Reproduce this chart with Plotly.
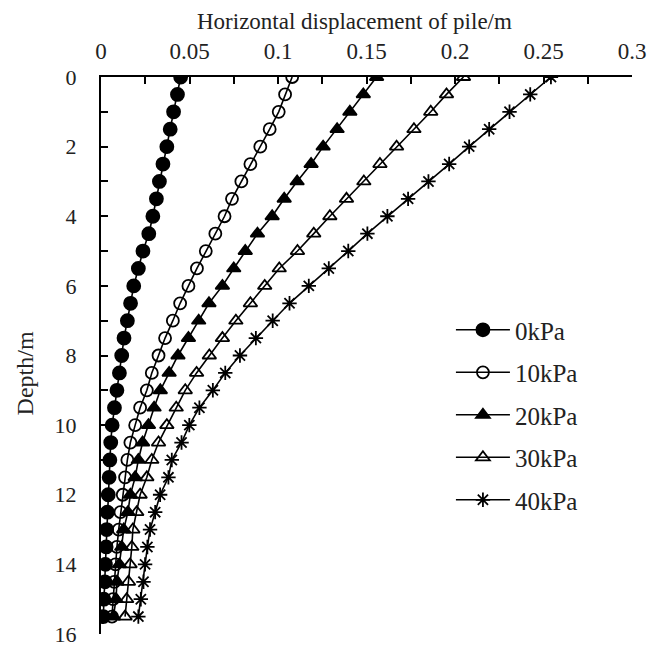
import plotly.graph_objects as go

depth = [i * 0.5 for i in range(32)]

disp_0kPa = [0.045, 0.0432, 0.041, 0.0391, 0.0372, 0.035, 0.033, 0.0313, 0.0293, 0.027,
             0.0237, 0.0211, 0.0185, 0.0167, 0.0149, 0.013, 0.0117, 0.0104, 0.009, 0.0076,
             0.0063, 0.0055, 0.005, 0.0046, 0.0041, 0.0036, 0.0032, 0.0029, 0.0025, 0.0022,
             0.0016, 0.0013]
disp_10kPa = [0.108, 0.104, 0.1004, 0.0953, 0.090, 0.0844, 0.0793, 0.074, 0.0698, 0.0646,
              0.0592, 0.0542, 0.0494, 0.0447, 0.0406, 0.0362, 0.0325, 0.0287, 0.0259, 0.0221,
              0.0193, 0.0166, 0.0149, 0.0136, 0.0123, 0.0110, 0.0100, 0.0090, 0.0082, 0.0075,
              0.0068, 0.0062]
disp_20kPa = [0.1557, 0.1482, 0.1406, 0.1334, 0.1255, 0.1187, 0.1108, 0.1035, 0.0967, 0.0884,
              0.0815, 0.075, 0.0686, 0.061, 0.0552, 0.0494, 0.0435, 0.0385, 0.0335, 0.030,
              0.0268, 0.0235, 0.0211, 0.0193, 0.0166, 0.0152, 0.0128, 0.0117, 0.0104, 0.009,
              0.0085, 0.007]
disp_30kPa = [0.2048, 0.1952, 0.1863, 0.1768, 0.167, 0.1576, 0.1485, 0.1387, 0.1293, 0.1202,
              0.111, 0.1007, 0.0925, 0.0844, 0.0762, 0.0686, 0.0612, 0.054, 0.0476, 0.0425,
              0.0372, 0.0325, 0.0287, 0.0259, 0.0221, 0.0202, 0.018, 0.0174, 0.0164, 0.0155,
              0.0145, 0.0136]
disp_40kPa = [0.2542, 0.2425, 0.2308, 0.2193, 0.208, 0.1967, 0.185, 0.1735, 0.1618, 0.1505,
              0.1397, 0.1287, 0.1174, 0.1065, 0.097, 0.0875, 0.0785, 0.0702, 0.0632, 0.0556,
              0.0499, 0.0455, 0.040, 0.0381, 0.0334, 0.0306, 0.0277, 0.0262, 0.0249, 0.024,
              0.0225, 0.0211]

series_names = ["0kPa", "10kPa", "20kPa", "30kPa", "40kPa"]
series_values = [disp_0kPa, disp_10kPa, disp_20kPa, disp_30kPa, disp_40kPa]
symbols = ["circle", "circle-open", "triangle-up", "triangle-up-open", "asterisk-open"]
sizes = [13, 12, 12, 12, 12]

FONT = "Liberation Serif, Times New Roman, serif"
TXT = "#222"

fig = go.Figure()
for name, vals, sym, sz in zip(series_names, series_values, symbols, sizes):
    fig.add_trace(go.Scatter(
        x=vals, y=depth, name=name, mode="lines+markers",
        legendgroup=name,
        line=dict(color="black", width=1.6),
        marker=dict(symbol=sym, size=sz, color="black",
                    line=dict(color="black", width=1.8)),
    ))

fig.update_layout(
    width=667, height=648,
    margin=dict(l=93, r=43, t=69, b=22),
    paper_bgcolor="white", plot_bgcolor="white",
    font=dict(family=FONT, size=23, color=TXT),
    showlegend=True,
    legend=dict(x=0.659, y=0.587, xanchor="left", yanchor="top",
                bgcolor="rgba(0,0,0,0)", tracegroupgap=7, itemwidth=54,
                font=dict(family=FONT, size=25, color=TXT)),
    xaxis=dict(side="top", range=[0, 0.3], dtick=0.05, tick0=0, automargin=False,
               showline=True, linecolor="black", linewidth=2,
               ticks="inside", ticklen=7, tickwidth=2, tickcolor="black",
               minor=dict(dtick=0.025, ticks="inside", ticklen=7, tickwidth=2, tickcolor="black"),
               showgrid=False, zeroline=False, ticklabelstandoff=7),
    yaxis=dict(range=[16, 0], dtick=2, tick0=0, automargin=False,
               showline=True, linecolor="black", linewidth=2,
               ticks="inside", ticklen=7, tickwidth=2, tickcolor="black",
               minor=dict(dtick=1, ticks="inside", ticklen=7, tickwidth=2, tickcolor="black"),
               showgrid=False, zeroline=False, ticklabelstandoff=18,
               tickfont=dict(family=FONT, size=22, color=TXT)),
    annotations=[
        dict(text="Horizontal displacement of pile/m", xref="paper", yref="paper",
             x=0.478, y=1.099, showarrow=False, xanchor="center", yanchor="middle",
             font=dict(family=FONT, size=23, color=TXT)),
        dict(text="Depth/m", xref="paper", yref="paper", x=-0.143, y=0.468,
             textangle=-90, showarrow=False, xanchor="center", yanchor="middle",
             font=dict(family=FONT, size=24, color=TXT)),
    ],
)

fig.write_html("out.html")
